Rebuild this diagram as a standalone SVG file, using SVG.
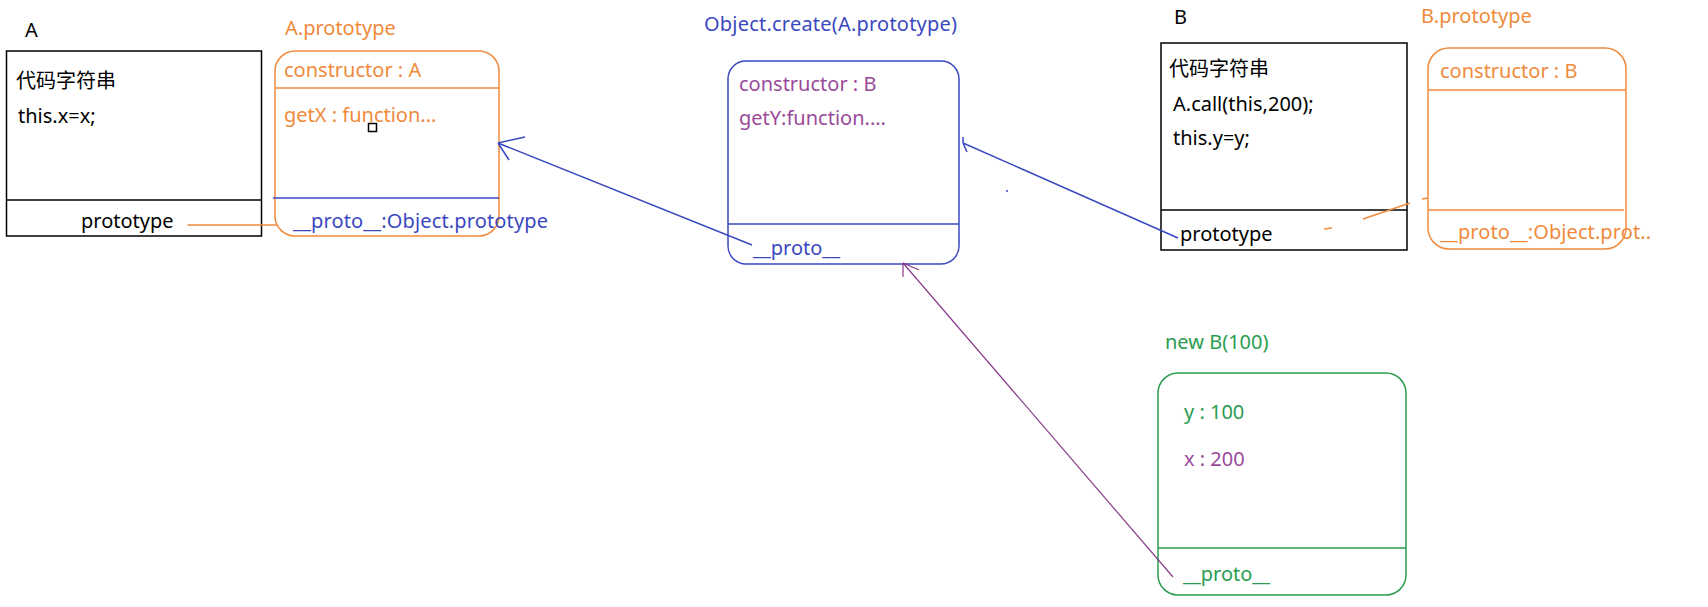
<svg xmlns="http://www.w3.org/2000/svg" width="1708" height="607" viewBox="0 0 1708 607">
<style>
text{font-family:"Noto Sans","Noto Sans CJK SC",sans-serif;font-size:20px}
.k{fill:#000}
.o{fill:#f08a3c}
.b{fill:#3a48c0}
.p{fill:#9a4a9a}
.g{fill:#2a9d50}
.so{stroke:#f08a3c;fill:none;stroke-width:1.5}
.sb{stroke:#3a48c0;fill:none;stroke-width:1.5}
.sk{stroke:#000;fill:none;stroke-width:1.5}
.sg{stroke:#2a9d50;fill:none;stroke-width:1.5}
.sp{stroke:#8a3a8a;fill:none;stroke-width:1.2}
.cjk{font-family:"Noto Sans CJK SC",sans-serif;font-size:20px}
</style>
<rect width="1708" height="607" fill="#fff"/>
<g id="nodeA">
<text class="k" x="25" y="37">A</text>
<rect class="sk" x="6.5" y="51" width="255" height="185"/>
<line class="sk" x1="6.5" y1="200" x2="261.5" y2="200"/>
<text class="k cjk" x="16" y="88">代码字符串</text>
<text class="k" x="18" y="123">this.x=x;</text>
<text class="k" x="81" y="228">prototype</text>
</g>
<g id="nodeAproto">
<text class="o" x="285" y="35">A.prototype</text>
<rect class="so" x="275" y="51" width="224" height="185" rx="20"/>
<line class="so" x1="275" y1="88" x2="499" y2="88"/>
<line class="sb" x1="273" y1="198" x2="499" y2="198"/>
<text class="o" x="284" y="77">constructor : A</text>
<text class="o" x="284" y="122">getX : function...</text>
<rect x="368.5" y="123.5" width="8" height="8" fill="#fff" stroke="#000" stroke-width="1.5"/>
<text class="b" x="293" y="228" textLength="255">__proto__:Object.prototype</text>
</g>
<g id="nodeCreate">
<text class="b" x="704" y="31" textLength="253">Object.create(A.prototype)</text>
<rect class="sb" x="728" y="61" width="231" height="203" rx="18"/>
<line class="sb" x1="728" y1="224" x2="959" y2="224"/>
<text class="p" x="739" y="91">constructor : B</text>
<text class="p" x="739" y="125">getY:function....</text>
<text class="b" x="753" y="255">__proto__</text>
</g>
<g id="nodeB">
<text class="k" x="1174" y="24">B</text>
<rect class="sk" x="1161" y="43" width="246" height="207"/>
<line class="sk" x1="1161" y1="210" x2="1407" y2="210"/>
<text class="k cjk" x="1169" y="76">代码字符串</text>
<text class="k" x="1173" y="111">A.call(this,200);</text>
<text class="k" x="1173" y="145">this.y=y;</text>
<text class="k" x="1180" y="241">prototype</text>
</g>
<g id="nodeBproto">
<text class="o" x="1421" y="23">B.prototype</text>
<rect class="so" x="1428" y="48" width="198" height="201" rx="21"/>
<line class="so" x1="1428" y1="90" x2="1626" y2="90"/>
<line class="so" x1="1428" y1="210" x2="1624" y2="210"/>
<text class="o" x="1440" y="78">constructor : B</text>
<text class="o" x="1440" y="239" textLength="211">__proto__:Object.prot..</text>
</g>
<g id="nodeNewB">
<text class="g" x="1165" y="349">new B(100)</text>
<rect class="sg" x="1158" y="373" width="248" height="222" rx="20"/>
<line class="sg" x1="1158" y1="548" x2="1406" y2="548"/>
<text class="g" x="1184" y="419">y : 100</text>
<text class="p" x="1184" y="466">x : 200</text>
<text class="g" x="1183" y="581">__proto__</text>
</g>
<g id="connectors">
<line class="so" x1="187.5" y1="225" x2="277" y2="225"/>
<path class="sb" d="M752 245 L498 143 M498 143 L525 137 M498 143 L509 160"/>
<path class="sb" d="M1178 238 L963 143 M963 143 L963 137 M963 143 L967 152"/>
<path class="sp" d="M1173 577 L903 263 M903 263 L903 277 M903 263 L919 270"/>
<path class="so" d="M1324 229 L1332 228 M1363 219 L1410 203 M1422 199 L1428 198"/>
<circle cx="1007" cy="191" r="1" fill="#3a48c0"/>
</g>
</svg>
